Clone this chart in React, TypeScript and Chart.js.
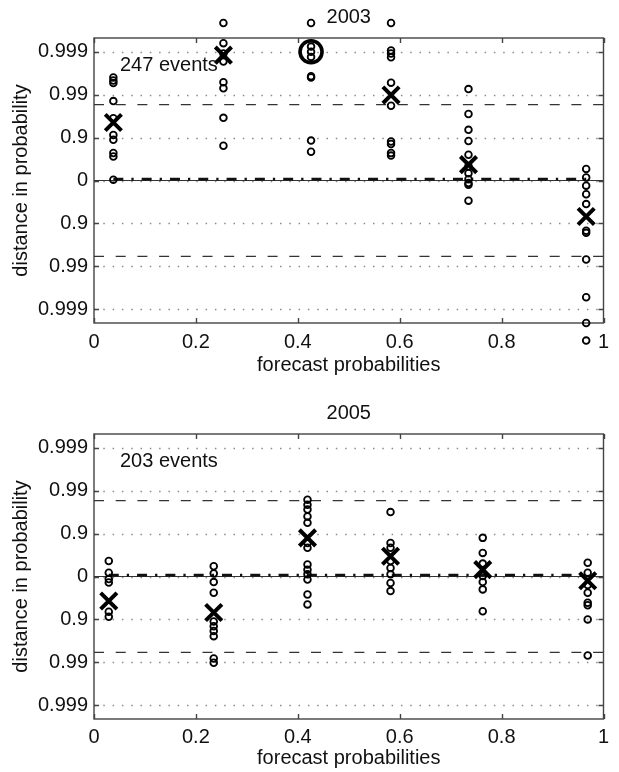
import React, { useEffect, useRef } from 'react';
import { Chart, registerables } from 'chart.js';

Chart.register(...registerables);

const FONT = '"Liberation Sans", Arial, Helvetica, sans-serif';

// Axis ticks
const xTickValues = [0, 0.2, 0.4, 0.6, 0.8, 1];
const xTickLabels = ['0', '0.2', '0.4', '0.6', '0.8', '1'];
const yTickValues = [-3, -2, -1, 0, 1, 2, 3];
const yTickLabels = ['0.999', '0.99', '0.9', '0', '0.9', '0.99', '0.999'];
const yLimit = 3.32;
const bandLevel = 1.77;

// 2003 panel
const bins2003 = [0.038, 0.254, 0.426, 0.583, 0.735, 0.966];
const obs2003 = [
  [2.4, 2.33, 2.27, 1.85, 1.45, 1.06, 0.95, 0.64, 0.56, 0.02],
  [3.67, 3.2, 2.96, 2.77, 2.29, 2.15, 1.46, 0.81],
  [3.67, 3.12, 3.0, 2.88, 2.43, 2.4, 0.93, 0.67],
  [3.67, 3.03, 2.96, 2.87, 2.28, 1.74, 0.91, 0.85, 0.64, 0.58],
  [2.13, 1.55, 1.18, 0.92, 0.6, 0.33, 0.17, 0.03, -0.06, -0.1, -0.47],
  [0.27, 0.07, -0.12, -0.32, -0.55, -1.17, -1.22, -1.84, -2.72, -3.32, -3.73],
];
const means2003 = [1.35, 2.92, null, 1.99, 0.37, -0.84];
const rings2003 = [{ x: 0.426, y: 3.0 }];

// 2005 panel
const bins2005 = [0.029, 0.235, 0.419, 0.582, 0.763, 0.969];
const obs2005 = [
  [0.36, 0.09, -0.06, -0.14, -0.82, -0.94],
  [0.24, 0.07, -0.13, -0.38, -1.05, -1.16, -1.27, -1.39, -1.91, -2.01],
  [1.79, 1.67, 1.56, 1.4, 1.25, 0.78, 0.67, 0.28, 0.16, 0.05, -0.07, -0.42, -0.65],
  [1.5, 0.78, 0.67, 0.36, 0.2, 0.05, -0.15, -0.34],
  [0.9, 0.55, 0.3, 0.01, -0.13, -0.3, -0.81],
  [0.32, 0.09, -0.2, -0.38, -0.61, -0.67, -1.0, -1.84],
];
const means2005 = [-0.57, -0.84, 0.9, 0.47, 0.16, -0.1];
const rings2005: { x: number; y: number }[] = [];

type PanelProps = {
  title: string;
  events: string;
  bins: number[];
  obs: number[][];
  means: (number | null)[];
  rings: { x: number; y: number }[];
  titlePadTop: number;
  titlePadBottom: number;
  xAxisHeight: number;
  xLabelPad: number;
  xTitlePadBottom: number;
};

function Panel(p: PanelProps) {
  const ref = useRef<HTMLCanvasElement>(null);
  useEffect(() => {
    const circles: { x: number; y: number }[] = [];
    p.obs.forEach((col, i) => col.forEach((v) => circles.push({ x: p.bins[i], y: v })));
    const crosses: { x: number; y: number }[] = [];
    p.means.forEach((m, i) => {
      if (m !== null) crosses.push({ x: p.bins[i], y: m });
    });
    const first = p.bins[0];
    const last = p.bins[p.bins.length - 1];

    const framePlugin = {
      id: 'frame',
      beforeDatasetsDraw(chart: any) {
        const { ctx, chartArea } = chart;
        const { left, right, top, bottom } = chartArea;
        const xs = chart.scales.x;
        const ys = chart.scales.y;
        ctx.save();
        ctx.strokeStyle = '#8a8a8a';
        ctx.lineWidth = 1.3;
        ctx.setLineDash([1.5, 7.8]);
        yTickValues.forEach((v) => {
          const py = Math.round(ys.getPixelForValue(v)) + 0.5;
          ctx.beginPath();
          ctx.moveTo(left, py);
          ctx.lineTo(right, py);
          ctx.stroke();
        });
        ctx.setLineDash([]);
        ctx.strokeStyle = '#444';
        ctx.lineWidth = 1.4;
        ctx.strokeRect(left, top, right - left, bottom - top);
        ctx.beginPath();
        xTickValues.forEach((v) => {
          const px = Math.round(xs.getPixelForValue(v)) + 0.5;
          ctx.moveTo(px, bottom);
          ctx.lineTo(px, bottom - 5);
          ctx.moveTo(px, top);
          ctx.lineTo(px, top + 5);
        });
        yTickValues.forEach((v) => {
          const py = Math.round(ys.getPixelForValue(v)) + 0.5;
          ctx.moveTo(left, py);
          ctx.lineTo(left + 5, py);
          ctx.moveTo(right, py);
          ctx.lineTo(right - 5, py);
        });
        ctx.stroke();
        ctx.restore();
      },
      afterDatasetsDraw(chart: any) {
        // points beyond the axes box (Chart.js skips them by default)
        const { ctx, chartArea } = chart;
        const big = { left: -1e5, top: -1e5, right: 1e5, bottom: 1e5 };
        chart.data.datasets.forEach((ds: any, i: number) => {
          if (ds.clip !== false || ds.showLine) return;
          const meta = chart.getDatasetMeta(i);
          meta.data.forEach((el: any) => {
            const o = el.options;
            const m = o.radius + o.borderWidth;
            const inside =
              el.x > chartArea.left - m &&
              el.x < chartArea.right + m &&
              el.y > chartArea.top - m &&
              el.y < chartArea.bottom + m;
            if (!inside) el.draw(ctx, big);
          });
        });
      },
      afterDraw(chart: any) {
        const { ctx, chartArea } = chart;
        ctx.save();
        ctx.font = '20px ' + FONT;
        ctx.fillStyle = '#111';
        ctx.textBaseline = 'middle';
        ctx.textAlign = 'left';
        ctx.fillText(p.events, chartArea.left + 26, chartArea.top + 27);
        ctx.restore();
      },
    };

    const hLine = (y: number, x0: number, x1: number) => [
      { x: x0, y },
      { x: x1, y },
    ];

    const chart = new Chart(ref.current as HTMLCanvasElement, {
      type: 'scatter',
      data: {
        datasets: [
          {
            data: hLine(0, 0, 1),
            showLine: true,
            borderColor: '#333',
            borderWidth: 1.2,
            pointRadius: 0,
            order: 5,
          },
          {
            data: hLine(bandLevel, 0, 1),
            showLine: true,
            borderColor: '#333',
            borderWidth: 1.2,
            borderDash: [10, 11.7],
            pointRadius: 0,
            order: 5,
          },
          {
            data: hLine(-bandLevel, 0, 1),
            showLine: true,
            borderColor: '#333',
            borderWidth: 1.2,
            borderDash: [10, 11.7],
            pointRadius: 0,
            order: 5,
          },
          {
            data: hLine(0.03, first, last),
            showLine: true,
            borderColor: '#111',
            borderWidth: 2.8,
            borderDash: [10, 8, 2.3, 8],
            pointRadius: 0,
            order: 4,
          },
          {
            data: circles,
            pointStyle: 'circle',
            pointRadius: 3.35,
            borderWidth: 1.8,
            borderColor: '#000',
            backgroundColor: 'rgba(0,0,0,0)',
            clip: false,
            order: 2,
          },
          {
            data: crosses,
            pointStyle: 'crossRot',
            pointRadius: 11.5,
            borderWidth: 4,
            borderColor: '#000',
            clip: false,
            order: 1,
          },
          {
            data: p.rings,
            pointStyle: 'circle',
            pointRadius: 11,
            borderWidth: 3.6,
            borderColor: '#000',
            backgroundColor: 'rgba(0,0,0,0)',
            clip: false,
            order: 1,
          },
        ] as any,
      },
      options: {
        responsive: false,
        animation: false,
        events: [],
        layout: { padding: { left: 0, right: 2, top: 0, bottom: 0 } },
        plugins: {
          legend: { display: false },
          tooltip: { enabled: false },
          title: {
            display: true,
            text: p.title,
            fullSize: false,
            color: '#111',
            font: { family: FONT, size: 20, weight: 'normal' },
            padding: { top: p.titlePadTop, bottom: p.titlePadBottom },
          },
        },
        scales: {
          x: {
            type: 'linear',
            min: 0,
            max: 1,
            grid: { display: false, drawTicks: false },
            border: { display: false },
            afterBuildTicks: (s: any) => {
              s.ticks = xTickValues.map((v) => ({ value: v }));
            },
            ticks: {
              autoSkip: false,
              maxRotation: 0,
              padding: p.xLabelPad,
              color: '#111',
              font: { family: FONT, size: 20 },
              callback: (v: any) => xTickLabels[xTickValues.indexOf(Number(v))],
            },
            title: {
              display: true,
              text: 'forecast probabilities',
              color: '#111',
              font: { family: FONT, size: 20 },
              padding: { top: 0, bottom: p.xTitlePadBottom },
            },
            afterFit: (s: any) => {
              s.height = p.xAxisHeight;
              s.paddingLeft = 0;
              s.paddingRight = 0;
            },
          },
          y: {
            type: 'linear',
            min: -yLimit,
            max: yLimit,
            grid: { display: false, drawTicks: false },
            border: { display: false },
            afterBuildTicks: (s: any) => {
              s.ticks = yTickValues.map((v) => ({ value: v }));
            },
            ticks: {
              autoSkip: false,
              padding: 6,
              color: '#111',
              font: { family: FONT, size: 20 },
              callback: (v: any) => yTickLabels[yTickValues.indexOf(Number(v))],
            },
            title: {
              display: true,
              text: 'distance in probability',
              color: '#111',
              font: { family: FONT, size: 20 },
              padding: { top: 9, bottom: 0 },
            },
            afterFit: (s: any) => {
              s.width = 94;
              s.paddingTop = 0;
              s.paddingBottom = 0;
            },
          },
        },
      } as any,
      plugins: [framePlugin],
    });
    return () => chart.destroy();
  }, []);
  return <canvas ref={ref} width={619} height={386} style={{ display: 'block', width: 619, height: 386 }} />;
}

export default function App() {
  return (
    <div style={{ position: 'absolute', left: 0, top: 0, width: 619, height: 772, background: '#fff', overflow: 'hidden' }}>
      <Panel
        title="2003"
        events="247 events"
        bins={bins2003}
        obs={obs2003}
        means={means2003}
        rings={rings2003}
        titlePadTop={5}
        titlePadBottom={9}
        xAxisHeight={63}
        xLabelPad={7}
        xTitlePadBottom={9}
      />
      <Panel
        title="2005"
        events="203 events"
        bins={bins2005}
        obs={obs2005}
        means={means2005}
        rings={rings2005}
        titlePadTop={15}
        titlePadBottom={9}
        xAxisHeight={53}
        xLabelPad={6}
        xTitlePadBottom={2}
      />
    </div>
  );
}
